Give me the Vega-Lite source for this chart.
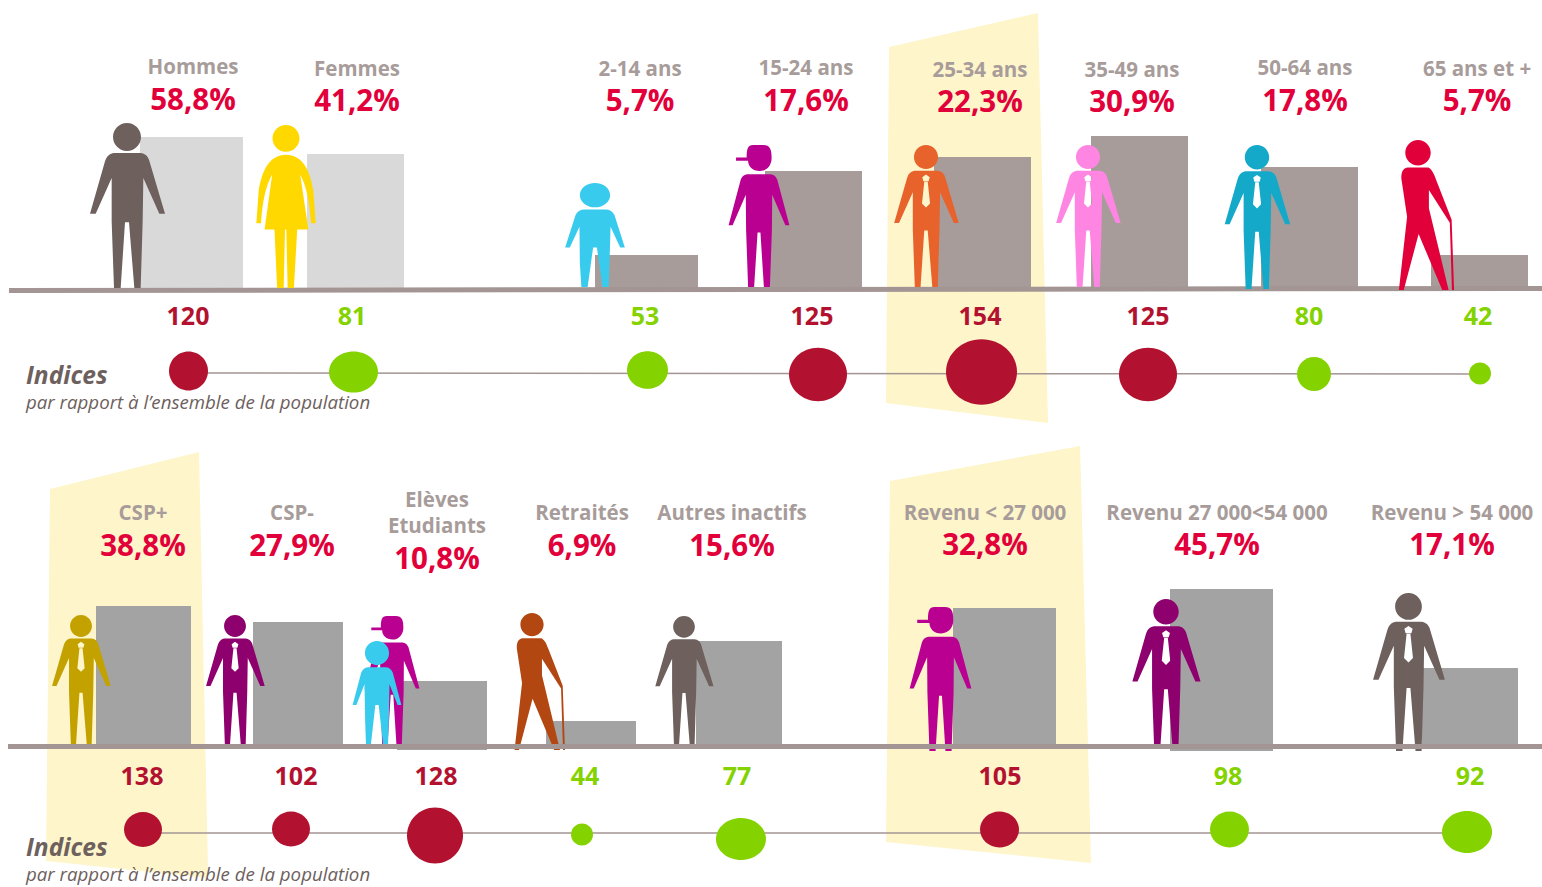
{
"$schema":"https://vega.github.io/schema/vega-lite/v6.json",
"width":1542,"height":887,"padding":0,
"autosize":{"type":"none"},
"background":"#ffffff",
"config":{"view":{"stroke":null},"axis":{"grid":false},"font":"Open Sans"},
"resolve":{"scale":{"color":"independent","shape":"independent","size":"independent"}},
"datasets":{
"segments":[
{"label":"Hommes","pct":"58,8%","index":120,"level":"above","tone":"light","barLeft":140,"barRight":243,"barTop":137,"barBase":288,"labelX":193,"labelY":74,"pctX":193,"pctY":110,"indexX":188,"indexY":325,"dotX":188.5,"dotY":371,"dotWidth":39,"form":"round"},
{"label":"Femmes","pct":"41,2%","index":81,"level":"below","tone":"light","barLeft":307,"barRight":404,"barTop":154,"barBase":288,"labelX":357,"labelY":76,"pctX":357,"pctY":111,"indexX":352,"indexY":325,"dotX":353.5,"dotY":372,"dotWidth":49,"form":"wide"},
{"label":"2-14 ans","pct":"5,7%","index":53,"level":"below","tone":"warm","barLeft":595,"barRight":698,"barTop":255,"barBase":288,"labelX":640,"labelY":76,"pctX":640,"pctY":111,"indexX":645,"indexY":325,"dotX":647.5,"dotY":370,"dotWidth":41,"form":"mid"},
{"label":"15-24 ans","pct":"17,6%","index":125,"level":"above","tone":"warm","barLeft":765,"barRight":862,"barTop":171,"barBase":288,"labelX":806,"labelY":75,"pctX":806,"pctY":111,"indexX":812,"indexY":325,"dotX":818,"dotY":374.5,"dotWidth":58,"form":"mid"},
{"label":"25-34 ans","pct":"22,3%","index":154,"level":"above","tone":"warm","barLeft":934,"barRight":1031,"barTop":157,"barBase":288,"labelX":980,"labelY":77,"pctX":980,"pctY":112,"indexX":980,"indexY":325,"dotX":981.5,"dotY":372,"dotWidth":71,"form":"mid"},
{"label":"35-49 ans","pct":"30,9%","index":125,"level":"above","tone":"warm","barLeft":1091,"barRight":1188,"barTop":136,"barBase":288,"labelX":1132,"labelY":77,"pctX":1132,"pctY":112,"indexX":1148,"indexY":325,"dotX":1148,"dotY":374.5,"dotWidth":58,"form":"mid"},
{"label":"50-64 ans","pct":"17,8%","index":80,"level":"below","tone":"warm","barLeft":1261,"barRight":1358,"barTop":167,"barBase":288,"labelX":1305,"labelY":75,"pctX":1305,"pctY":111,"indexX":1309,"indexY":325,"dotX":1314,"dotY":374,"dotWidth":34,"form":"round"},
{"label":"65 ans et +","pct":"5,7%","index":42,"level":"below","tone":"warm","barLeft":1431,"barRight":1528,"barTop":255,"barBase":291,"labelX":1477,"labelY":76,"pctX":1477,"pctY":111,"indexX":1478,"indexY":325,"dotX":1480,"dotY":373.5,"dotWidth":22,"form":"round"},
{"label":"CSP+","pct":"38,8%","index":138,"level":"above","tone":"neutral","barLeft":96,"barRight":191,"barTop":606,"barBase":745,"labelX":143,"labelY":520,"pctX":143,"pctY":556,"indexX":142,"indexY":785,"dotX":143,"dotY":829.5,"dotWidth":38,"form":"mid"},
{"label":"CSP-","pct":"27,9%","index":102,"level":"above","tone":"neutral","barLeft":253,"barRight":343,"barTop":622,"barBase":745,"labelX":292,"labelY":520,"pctX":292,"pctY":556,"indexX":296,"indexY":785,"dotX":291,"dotY":829,"dotWidth":38,"form":"mid"},
{"label":"Elèves\nEtudiants","pct":"10,8%","index":128,"level":"above","tone":"neutral","barLeft":397,"barRight":487,"barTop":681,"barBase":750,"labelX":437,"labelY":507,"pctX":437,"pctY":569,"indexX":436,"indexY":785,"dotX":435,"dotY":835.5,"dotWidth":56,"form":"round"},
{"label":"Retraités","pct":"6,9%","index":44,"level":"below","tone":"neutral","barLeft":546,"barRight":636,"barTop":721,"barBase":745,"labelX":582,"labelY":520,"pctX":582,"pctY":556,"indexX":585,"indexY":785,"dotX":582,"dotY":834.5,"dotWidth":22,"form":"round"},
{"label":"Autres inactifs","pct":"15,6%","index":77,"level":"below","tone":"neutral","barLeft":696,"barRight":782,"barTop":641,"barBase":745,"labelX":732,"labelY":520,"pctX":732,"pctY":556,"indexX":737,"indexY":785,"dotX":741,"dotY":839,"dotWidth":50,"form":"wide"},
{"label":"Revenu < 27 000","pct":"32,8%","index":105,"level":"above","tone":"neutral","barLeft":953,"barRight":1056,"barTop":608,"barBase":747,"labelX":985,"labelY":520,"pctX":985,"pctY":555,"indexX":1000,"indexY":785,"dotX":999.5,"dotY":829.5,"dotWidth":39,"form":"mid"},
{"label":"Revenu 27 000<54 000","pct":"45,7%","index":98,"level":"below","tone":"neutral","barLeft":1170,"barRight":1273,"barTop":589,"barBase":751,"labelX":1217,"labelY":520,"pctX":1217,"pctY":555,"indexX":1228,"indexY":785,"dotX":1229.5,"dotY":829.5,"dotWidth":39,"form":"mid"},
{"label":"Revenu > 54 000","pct":"17,1%","index":92,"level":"below","tone":"neutral","barLeft":1422,"barRight":1518,"barTop":668,"barBase":747,"labelX":1452,"labelY":520,"pctX":1452,"pctY":555,"indexX":1470,"indexY":785,"dotX":1467,"dotY":832,"dotWidth":50,"form":"wide"}
],
"figures":[
{"segment":"Hommes","panel":"top","figure":"plain","ink":"slate","x":127,"feet":288,"stature":165},
{"segment":"Femmes","panel":"top","figure":"woman","ink":"yellow","x":286,"feet":288,"stature":163},
{"segment":"2-14 ans","panel":"top","figure":"child","ink":"sky","x":595,"feet":287,"stature":104},
{"segment":"15-24 ans","panel":"top","figure":"cap","ink":"magenta","x":759,"feet":287,"stature":142},
{"segment":"25-34 ans","panel":"top","figure":"suit","ink":"orange","x":926,"feet":287,"stature":142},
{"segment":"35-49 ans","panel":"top","figure":"suit","ink":"pink","x":1088,"feet":287,"stature":142},
{"segment":"50-64 ans","panel":"top","figure":"suit","ink":"teal","x":1257,"feet":289,"stature":144},
{"segment":"65 ans et +","panel":"top","figure":"elder","ink":"red","x":1418,"feet":290,"stature":150},
{"segment":"CSP+","panel":"bottom","figure":"suit","ink":"gold","x":81,"feet":744,"stature":129},
{"segment":"CSP-","panel":"bottom","figure":"suit","ink":"plum","x":235,"feet":744,"stature":129},
{"segment":"Elèves","panel":"bottom","figure":"cap","ink":"magenta","x":392,"feet":744,"stature":128},
{"segment":"Etudiants","panel":"bottom","figure":"kid","ink":"sky","x":377,"feet":744,"stature":103},
{"segment":"Retraités","panel":"bottom","figure":"elder","ink":"rust","x":532,"feet":750,"stature":137},
{"segment":"Autres inactifs","panel":"bottom","figure":"plain","ink":"slate","x":684,"feet":744,"stature":128},
{"segment":"Revenu < 27 000","panel":"bottom","figure":"cap","ink":"magenta","x":940.5,"feet":751,"stature":144},
{"segment":"Revenu 27 000<54 000","panel":"bottom","figure":"suit","ink":"plum","x":1166,"feet":749,"stature":150},
{"segment":"Revenu > 54 000","panel":"bottom","figure":"suit","ink":"slate","x":1408.5,"feet":751,"stature":158}
],
"zones":[
{"zone":"25-34 ans","y":13,"left":1038,"right":1038},
{"zone":"25-34 ans","y":47,"left":889,"right":1038.8},
{"zone":"25-34 ans","y":403,"left":886,"right":1047.5},
{"zone":"25-34 ans","y":423,"left":1048,"right":1048},
{"zone":"CSP+","y":452,"left":199,"right":199},
{"zone":"CSP+","y":489,"left":50,"right":199.8},
{"zone":"CSP+","y":861,"left":46,"right":207.8},
{"zone":"CSP+","y":878,"left":208,"right":208},
{"zone":"Revenu < 27 000","y":446,"left":1080,"right":1080},
{"zone":"Revenu < 27 000","y":481,"left":890,"right":1081},
{"zone":"Revenu < 27 000","y":842,"left":886,"right":1090.5},
{"zone":"Revenu < 27 000","y":863,"left":1091,"right":1091}
],
"baselines":[
{"line":"top","x":9,"y":290.5},{"line":"top","x":1542,"y":288.5},
{"line":"bottom","x":8,"y":746.5},{"line":"bottom","x":1542,"y":746.5}
],
"links":[
{"line":"top","x":188,"y":373},{"line":"top","x":1480,"y":374},
{"line":"bottom","x":143,"y":833},{"line":"bottom","x":1467,"y":833}
],
"notes":[
{"text":"Indices","x":26,"y":384,"kind":"title"},
{"text":"par rapport à l’ensemble de la population","x":26,"y":409,"kind":"note"},
{"text":"Indices","x":26,"y":856,"kind":"title"},
{"text":"par rapport à l’ensemble de la population","x":26,"y":881,"kind":"note"}
]
},
"layer":[
{"data":{"name":"zones"},
 "mark":{"type":"area","orient":"horizontal","color":"#fef5cb","opacity":1},
 "encoding":{
  "y":{"field":"y","type":"quantitative","axis":null,"scale":{"domain":[887,0],"nice":false,"zero":false}},
  "x":{"field":"left","type":"quantitative","axis":null,"stack":null,"scale":{"domain":[0,1542],"nice":false,"zero":false}},
  "x2":{"field":"right"},
  "detail":{"field":"zone","type":"nominal"}
 }},
{"data":{"name":"segments"},
 "mark":{"type":"rect"},
 "encoding":{
  "x":{"field":"barLeft","type":"quantitative","axis":null},
  "x2":{"field":"barRight"},
  "y":{"field":"barTop","type":"quantitative","axis":null},
  "y2":{"field":"barBase"},
  "color":{"field":"tone","type":"nominal","legend":null,"scale":{"domain":["light","warm","neutral"],"range":["#d9d9d9","#a79c9a","#a3a3a3"]}}
 }},
{"data":{"name":"figures"},
 "transform":[{"filter":"datum.panel==='bottom'"}],
 "mark":{"type":"point","filled":true,"opacity":1,"strokeWidth":0},
 "encoding":{
  "x":{"field":"x","type":"quantitative","axis":null},
  "y":{"field":"feet","type":"quantitative","axis":null},
  "size":{"field":"stature","type":"quantitative","legend":null,"scale":{"type":"pow","exponent":2,"domain":[0,495],"range":[0,4]}},
  "shape":{"field":"figure","type":"nominal","legend":null,"scale":{"domain":["plain","suit","woman","child","kid","cap","elder"],"range":[
   "M-42 -453C-42 -476 -23 -495 0 -495C23 -495 42 -476 42 -453C42 -430 23 -411 0 -411C-23 -411 -42 -430 -42 -453ZM-35 -405L35 -405C50 -405 60 -400 66 -385L114 -223L97 -223L49 -330L47 -200L41 0L22 0L6 -197L-6 -197L-19 0L-39 0L-46 -200L-46 -330L-94 -223L-111 -223L-66 -380C-60 -398 -50 -405 -35 -405Z",
   "M-42 -453C-42 -476 -23 -495 0 -495C23 -495 42 -476 42 -453C42 -430 23 -411 0 -411C-23 -411 -42 -430 -42 -453ZM-35 -405L35 -405C50 -405 60 -400 66 -385L114 -223L97 -223L49 -330L47 -200L41 0L22 0L6 -197L-6 -197L-19 0L-39 0L-46 -200L-46 -330L-94 -223L-111 -223L-66 -380C-60 -398 -50 -405 -35 -405ZM0 -392L-13 -383L-9 -369L9 -369L13 -383ZM-6 -367L-14 -291L0 -277L14 -291L6 -367Z",
   "M-41 -454C-41 -476 -23 -495 0 -495C23 -495 41 -476 41 -454C41 -432 23 -414 0 -414C-23 -414 -41 -432 -41 -454ZM0 -405C48 -405 73 -360 83 -295L90 -197L76 -197C72 -260 62 -310 43 -345L68 -178L34 -178L24 0L5 0L1 -178L-3 -178L-7 0L-27 0L-35 -178L-65 -178L-42 -345C-62 -310 -72 -260 -76 -197L-90 -197L-83 -295C-73 -360 -48 -405 0 -405Z",
   "M-72 -437C-72 -469 -40 -495 0 -495C40 -495 72 -469 72 -437C72 -405 40 -379 0 -379C-40 -379 -72 -405 -72 -437ZM-50 -369L50 -369C70 -369 85 -360 93 -342L142 -188L120 -188L74 -287L69 -113L65 0L35 0L9 -188L-9 -188L-35 0L-65 0L-72 -113L-74 -287L-120 -188L-142 -188L-93 -342C-85 -360 -70 -369 -50 -369Z",
   "M-58 -437C-58 -469 -32 -495 0 -495C32 -495 58 -469 58 -437C58 -405 32 -379 0 -379C-32 -379 -58 -405 -58 -437ZM-41 -369L41 -369C57 -369 70 -360 76 -342L117 -188L99 -188L60 -287L57 -113L53 0L29 0L8 -188L-8 -188L-29 0L-53 0L-57 -113L-60 -287L-99 -188L-117 -188L-76 -342C-70 -360 -57 -369 -41 -369Z",
   "M-43 -451C-43 -480 -40 -495 -20 -495L15 -495C38 -495 44 -480 44 -450C44 -425 28 -404 2 -404C-22 -404 -38 -420 -38 -440L-80 -440L-80 -451ZM-35 -393L35 -393C50 -393 58 -388 64 -373L106 -215L92 -215L46 -322L45 -200L38 0L17 0L5 -190L-5 -190L-17 0L-38 0L-45 -200L-46 -322L-92 -215L-106 -215L-64 -373C-58 -388 -50 -393 -35 -393Z",
   "M-42 -453C-42 -476 -23 -495 0 -495C23 -495 42 -476 42 -453C42 -430 23 -411 0 -411C-23 -411 -42 -430 -42 -453ZM-33 -404L33 -404C45 -400 52 -385 60 -363L111 -232L119 0L112 0L105 -222L36 -330L36 -270L101 0L80 0L2 -185L-47 0L-63 0L-36 -242L-55 -368C-55 -390 -50 -402 -33 -404Z"
  ]}},
  "color":{"field":"ink","type":"nominal","legend":null,"scale":{"domain":["slate","yellow","sky","magenta","orange","pink","teal","red","gold","plum","rust"],"range":["#6d605d","#ffd800","#38cbee","#ba0090","#e8622c","#ff85e3","#15a9c9","#e2003a","#c3a200","#8e006e","#b34712"]}}
 }},
{"data":{"name":"baselines"},
 "mark":{"type":"line","color":"#a39593","strokeWidth":5},
 "encoding":{
  "x":{"field":"x","type":"quantitative","axis":null},
  "y":{"field":"y","type":"quantitative","axis":null},
  "detail":{"field":"line","type":"nominal"}
 }},
{"data":{"name":"figures"},
 "transform":[{"filter":"datum.panel==='top'"}],
 "mark":{"type":"point","filled":true,"opacity":1,"strokeWidth":0},
 "encoding":{
  "x":{"field":"x","type":"quantitative","axis":null},
  "y":{"field":"feet","type":"quantitative","axis":null},
  "size":{"field":"stature","type":"quantitative","legend":null,"scale":{"type":"pow","exponent":2,"domain":[0,495],"range":[0,4]}},
  "shape":{"field":"figure","type":"nominal","legend":null,"scale":{"domain":["plain","suit","woman","child","kid","cap","elder"],"range":[
   "M-42 -453C-42 -476 -23 -495 0 -495C23 -495 42 -476 42 -453C42 -430 23 -411 0 -411C-23 -411 -42 -430 -42 -453ZM-35 -405L35 -405C50 -405 60 -400 66 -385L114 -223L97 -223L49 -330L47 -200L41 0L22 0L6 -197L-6 -197L-19 0L-39 0L-46 -200L-46 -330L-94 -223L-111 -223L-66 -380C-60 -398 -50 -405 -35 -405Z",
   "M-42 -453C-42 -476 -23 -495 0 -495C23 -495 42 -476 42 -453C42 -430 23 -411 0 -411C-23 -411 -42 -430 -42 -453ZM-35 -405L35 -405C50 -405 60 -400 66 -385L114 -223L97 -223L49 -330L47 -200L41 0L22 0L6 -197L-6 -197L-19 0L-39 0L-46 -200L-46 -330L-94 -223L-111 -223L-66 -380C-60 -398 -50 -405 -35 -405ZM0 -392L-13 -383L-9 -369L9 -369L13 -383ZM-6 -367L-14 -291L0 -277L14 -291L6 -367Z",
   "M-41 -454C-41 -476 -23 -495 0 -495C23 -495 41 -476 41 -454C41 -432 23 -414 0 -414C-23 -414 -41 -432 -41 -454ZM0 -405C48 -405 73 -360 83 -295L90 -197L76 -197C72 -260 62 -310 43 -345L68 -178L34 -178L24 0L5 0L1 -178L-3 -178L-7 0L-27 0L-35 -178L-65 -178L-42 -345C-62 -310 -72 -260 -76 -197L-90 -197L-83 -295C-73 -360 -48 -405 0 -405Z",
   "M-72 -437C-72 -469 -40 -495 0 -495C40 -495 72 -469 72 -437C72 -405 40 -379 0 -379C-40 -379 -72 -405 -72 -437ZM-50 -369L50 -369C70 -369 85 -360 93 -342L142 -188L120 -188L74 -287L69 -113L65 0L35 0L9 -188L-9 -188L-35 0L-65 0L-72 -113L-74 -287L-120 -188L-142 -188L-93 -342C-85 -360 -70 -369 -50 -369Z",
   "M-58 -437C-58 -469 -32 -495 0 -495C32 -495 58 -469 58 -437C58 -405 32 -379 0 -379C-32 -379 -58 -405 -58 -437ZM-41 -369L41 -369C57 -369 70 -360 76 -342L117 -188L99 -188L60 -287L57 -113L53 0L29 0L8 -188L-8 -188L-29 0L-53 0L-57 -113L-60 -287L-99 -188L-117 -188L-76 -342C-70 -360 -57 -369 -41 -369Z",
   "M-43 -451C-43 -480 -40 -495 -20 -495L15 -495C38 -495 44 -480 44 -450C44 -425 28 -404 2 -404C-22 -404 -38 -420 -38 -440L-80 -440L-80 -451ZM-35 -393L35 -393C50 -393 58 -388 64 -373L106 -215L92 -215L46 -322L45 -200L38 0L17 0L5 -190L-5 -190L-17 0L-38 0L-45 -200L-46 -322L-92 -215L-106 -215L-64 -373C-58 -388 -50 -393 -35 -393Z",
   "M-42 -453C-42 -476 -23 -495 0 -495C23 -495 42 -476 42 -453C42 -430 23 -411 0 -411C-23 -411 -42 -430 -42 -453ZM-33 -404L33 -404C45 -400 52 -385 60 -363L111 -232L119 0L112 0L105 -222L36 -330L36 -270L101 0L80 0L2 -185L-47 0L-63 0L-36 -242L-55 -368C-55 -390 -50 -402 -33 -404Z"
  ]}},
  "color":{"field":"ink","type":"nominal","legend":null,"scale":{"domain":["slate","yellow","sky","magenta","orange","pink","teal","red","gold","plum","rust"],"range":["#6d605d","#ffd800","#38cbee","#ba0090","#e8622c","#ff85e3","#15a9c9","#e2003a","#c3a200","#8e006e","#b34712"]}}
 }},
{"data":{"name":"links"},
 "mark":{"type":"line","color":"#a39593","strokeWidth":1.5},
 "encoding":{
  "x":{"field":"x","type":"quantitative","axis":null},
  "y":{"field":"y","type":"quantitative","axis":null},
  "detail":{"field":"line","type":"nominal"}
 }},
{"data":{"name":"segments"},
 "mark":{"type":"point","filled":true,"opacity":1,"strokeWidth":0},
 "encoding":{
  "x":{"field":"dotX","type":"quantitative","axis":null},
  "y":{"field":"dotY","type":"quantitative","axis":null},
  "size":{"field":"dotWidth","type":"quantitative","legend":null,"scale":{"type":"pow","exponent":2,"domain":[0,100],"range":[0,10000]}},
  "shape":{"field":"form","type":"nominal","legend":null,"scale":{"domain":["round","mid","wide"],"range":[
   "M-1 0C-1 -0.55 -0.55 -1 0 -1C0.55 -1 1 -0.55 1 0C1 0.55 0.55 1 0 1C-0.55 1 -1 0.55 -1 0Z",
   "M-1 0C-1 -0.506 -0.55 -0.92 0 -0.92C0.55 -0.92 1 -0.506 1 0C1 0.506 0.55 0.92 0 0.92C-0.55 0.92 -1 0.506 -1 0Z",
   "M-1 0C-1 -0.462 -0.55 -0.84 0 -0.84C0.55 -0.84 1 -0.462 1 0C1 0.462 0.55 0.84 0 0.84C-0.55 0.84 -1 0.462 -1 0Z"
  ]}},
  "color":{"field":"level","type":"nominal","legend":null,"scale":{"domain":["above","below"],"range":["#b2122f","#84d200"]}}
 }},
{"data":{"name":"segments"},
 "mark":{"type":"text","font":"Open Sans","fontWeight":"bold","fontSize":20.5,"align":"center","baseline":"alphabetic","lineBreak":"\n","lineHeight":26,"color":"#a79c9a"},
 "encoding":{
  "x":{"field":"labelX","type":"quantitative","axis":null},
  "y":{"field":"labelY","type":"quantitative","axis":null},
  "text":{"field":"label","type":"nominal"}
 }},
{"data":{"name":"segments"},
 "mark":{"type":"text","font":"Open Sans","fontWeight":"bold","fontSize":29.5,"align":"center","baseline":"alphabetic","color":"#e2003a"},
 "encoding":{
  "x":{"field":"pctX","type":"quantitative","axis":null},
  "y":{"field":"pctY","type":"quantitative","axis":null},
  "text":{"field":"pct","type":"nominal"}
 }},
{"data":{"name":"segments"},
 "mark":{"type":"text","font":"Open Sans","fontWeight":"bold","fontSize":25,"align":"center","baseline":"alphabetic"},
 "encoding":{
  "x":{"field":"indexX","type":"quantitative","axis":null},
  "y":{"field":"indexY","type":"quantitative","axis":null},
  "text":{"field":"index","type":"quantitative"},
  "color":{"field":"level","type":"nominal","legend":null,"scale":{"domain":["above","below"],"range":["#b2122f","#84d200"]}}
 }},
{"data":{"name":"notes"},
 "transform":[{"filter":"datum.kind==='title'"}],
 "mark":{"type":"text","font":"Open Sans","fontWeight":"bold","fontStyle":"italic","fontSize":24.5,"align":"left","baseline":"alphabetic","color":"#6d605d"},
 "encoding":{
  "x":{"field":"x","type":"quantitative","axis":null},
  "y":{"field":"y","type":"quantitative","axis":null},
  "text":{"field":"text","type":"nominal"}
 }},
{"data":{"name":"notes"},
 "transform":[{"filter":"datum.kind==='note'"}],
 "mark":{"type":"text","font":"Open Sans","fontStyle":"italic","fontSize":18.7,"align":"left","baseline":"alphabetic","color":"#6d605d"},
 "encoding":{
  "x":{"field":"x","type":"quantitative","axis":null},
  "y":{"field":"y","type":"quantitative","axis":null},
  "text":{"field":"text","type":"nominal"}
 }}
]
}
